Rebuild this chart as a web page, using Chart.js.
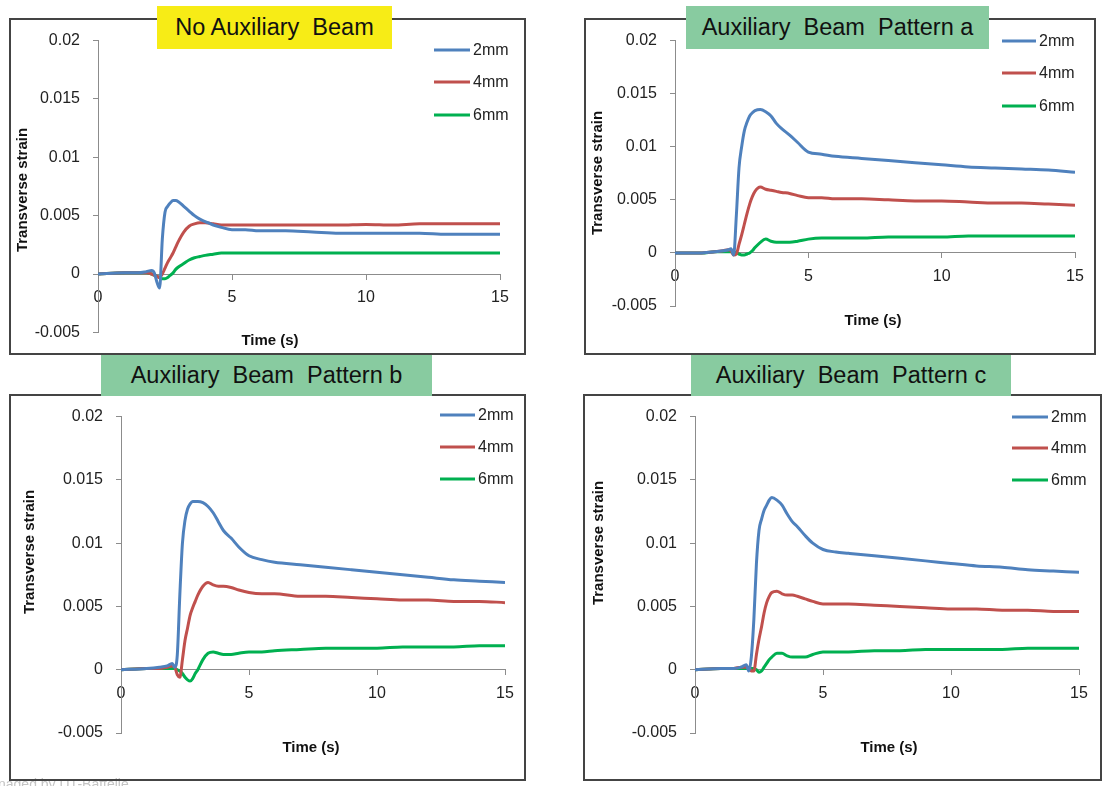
<!DOCTYPE html>
<html>
<head>
<meta charset="utf-8">
<script src="https://cdn.jsdelivr.net/npm/chart.js@4.4.1/dist/chart.umd.min.js"></script>
<style>
  html, body { margin: 0; padding: 0; background: #fff; width: 1109px; height: 786px; overflow: hidden;
    font-family: "Liberation Sans", Arial, sans-serif; }
  canvas { position: absolute; }
  .frame { position: absolute; box-sizing: border-box; border: 2px solid #444; pointer-events: none; }
  .title { position: absolute; font-size: 23.5px; color: #111; text-align: center; white-space: pre; }
  .footer { position: absolute; left: -2px; top: 776px; font-size: 14px; color: #c4c4c4; }
</style>
</head>
<body>
<canvas id="c1"></canvas>
<canvas id="c2"></canvas>
<canvas id="c3"></canvas>
<canvas id="c4"></canvas>
<div class="footer">naged by UT-Battelle</div>

<script>
// sample times (s), shared by every series
const time = [0, 1, 1.5, 1.8, 2.0, 2.1, 2.2, 2.3, 2.4, 2.5, 2.6, 2.7, 2.8, 2.9, 3.0, 3.2, 3.4, 3.6, 3.8, 4.0,
              4.3, 4.6, 5.0, 5.5, 6, 7, 8, 9, 10, 11, 12, 13, 14, 15];

const seriesNames = ['2mm', '4mm', '6mm'];
const yTicks = [-0.005, 0, 0.005, 0.01, 0.015, 0.02];
const xTicks = [0, 5, 10, 15];

// No auxiliary beam
const noAux2mm = [0, 0.0001, 0.0001, 0.0002, 0.0003, 0.0001, -0.0007, -0.0012, 0.0030, 0.0053, 0.0058, 0.0061, 0.0063, 0.0063, 0.0062, 0.0058, 0.0054,
                  0.0050, 0.0047, 0.0045, 0.0042, 0.0040, 0.0038, 0.0038, 0.0037, 0.0037, 0.0036, 0.0035, 0.0035, 0.0035, 0.0035, 0.0034, 0.0034, 0.0034];
const noAux4mm = [0, 0.0001, 0.0001, 0.0001, 0.0000, -0.0001, -0.0002, -0.0003, 0.0000, 0.0005, 0.0010, 0.0014, 0.0018, 0.0023, 0.0028, 0.0036, 0.0041,
                  0.0043, 0.0044, 0.0044, 0.0043, 0.0042, 0.0042, 0.0042, 0.0042, 0.0042, 0.0042, 0.0042, 0.00425, 0.0042, 0.0043, 0.0043, 0.0043, 0.0043];
const noAux6mm = [0, 0.0001, 0.0001, 0.0001, 0.0000, -0.0001, -0.0002, -0.0003, -0.0004, -0.0004, -0.0003, -0.0001, 0.0001, 0.0004, 0.0006, 0.0009, 0.0012,
                  0.0014, 0.0015, 0.0016, 0.0017, 0.0018, 0.0018, 0.0018, 0.0018, 0.0018, 0.0018, 0.0018, 0.0018, 0.0018, 0.0018, 0.0018, 0.0018, 0.0018];

// pattern a
const patA2mm = [0, 0, 0.0001, 0.0002, 0.0003, 0.0004, -0.0002, 0.0035, 0.0080, 0.0100, 0.0115, 0.0123, 0.0129, 0.0132, 0.0134, 0.0135, 0.0133,
                 0.0129, 0.0122, 0.0117, 0.0111, 0.0104, 0.0095, 0.0093, 0.0091, 0.0089, 0.0087, 0.0085, 0.0083, 0.0081, 0.0080, 0.0079, 0.0078, 0.0076];
const patA4mm = [0, 0, 0.0001, 0.0002, 0.0003, 0.0002, -0.0002, -0.0001, 0.0008, 0.0017, 0.0027, 0.0037, 0.0046, 0.0053, 0.0058, 0.0062, 0.0060,
                 0.0059, 0.0058, 0.0057, 0.0056, 0.0054, 0.0052, 0.0052, 0.0051, 0.0051, 0.0050, 0.0049, 0.0049, 0.0048, 0.0047, 0.0047, 0.0046, 0.0045];
const patA6mm = [0, 0, 0.0001, 0.0001, 0.0001, 0.0001, 0.0001, 0.0000, -0.0001, -0.0002, -0.0002, -0.0001, 0.0000, 0.0002, 0.0005, 0.0010, 0.0013,
                 0.0011, 0.0010, 0.0010, 0.0010, 0.0011, 0.0013, 0.0014, 0.0014, 0.0014, 0.0015, 0.0015, 0.0015, 0.0016, 0.0016, 0.0016, 0.0016, 0.0016];

// pattern b
const patB2mm = [0, 0.0001, 0.0002, 0.0003, 0.0005, 0.0002, 0.0012, 0.0060, 0.0100, 0.0118, 0.0127, 0.0131, 0.0133, 0.0133, 0.0133, 0.0132, 0.0129,
                 0.0124, 0.0117, 0.0110, 0.0104, 0.0097, 0.0090, 0.0087, 0.0085, 0.0083, 0.0081, 0.0079, 0.0077, 0.0075, 0.0073, 0.0071, 0.0070, 0.0069];
const patB4mm = [0, 0.0001, 0.0001, 0.0002, 0.0003, 0.0002, -0.0004, -0.0006, 0.0008, 0.0023, 0.0033, 0.0043, 0.0049, 0.0054, 0.0059, 0.0066, 0.0069,
                 0.0067, 0.0066, 0.0066, 0.0065, 0.0063, 0.0061, 0.0060, 0.0060, 0.0058, 0.0058, 0.0057, 0.0056, 0.0055, 0.0055, 0.0054, 0.0054, 0.0053];
const patB6mm = [0, 0.0001, 0.0001, 0.0001, 0.0001, 0.0001, 0.0000, -0.0001, -0.0003, -0.0006, -0.0008, -0.0009, -0.0007, -0.0003, 0.0000, 0.0008, 0.0013,
                 0.0014, 0.0013, 0.0012, 0.0012, 0.0013, 0.0014, 0.0014, 0.0015, 0.0016, 0.0017, 0.0017, 0.0017, 0.0018, 0.0018, 0.0018, 0.0019, 0.0019];

// pattern c
const patC2mm = [0, 0.0001, 0.0001, 0.0002, 0.0004, -0.0001, 0.0010, 0.0040, 0.0084, 0.0110, 0.0119, 0.0126, 0.0130, 0.0134, 0.0136, 0.0134, 0.0130,
                 0.0123, 0.0117, 0.0113, 0.0106, 0.0100, 0.0095, 0.0093, 0.0092, 0.0090, 0.0088, 0.0086, 0.0084, 0.0082, 0.0081, 0.0079, 0.0078, 0.0077];
const patC4mm = [0, 0.0001, 0.0001, 0.0002, 0.0002, 0.0002, -0.0001, -0.0001, 0.0012, 0.0024, 0.0034, 0.0045, 0.0053, 0.0058, 0.0061, 0.0062, 0.0060,
                 0.0059, 0.0059, 0.0058, 0.0056, 0.0054, 0.0052, 0.0052, 0.0052, 0.0051, 0.0050, 0.0049, 0.0048, 0.0048, 0.0047, 0.0047, 0.0046, 0.0046];
const patC6mm = [0, 0.0001, 0.0001, 0.0001, 0.0001, 0.0001, 0.0001, 0.0001, 0.0000, -0.0002, -0.0001, 0.0002, 0.0005, 0.0008, 0.0010, 0.0013, 0.0013,
                 0.0011, 0.0010, 0.0010, 0.0010, 0.0012, 0.0014, 0.0014, 0.0014, 0.0015, 0.0015, 0.0016, 0.0016, 0.0016, 0.0016, 0.0017, 0.0017, 0.0017];

const lineColors = ['#4f81bd', '#c0504d', '#00b050'];
const FONT = '"Liberation Sans", Arial, sans-serif';

// page layout of the four panels: box = frame [left, top, width, height],
// area = plot [x at t=0, y at 0.02, x at t=15, y at -0.005]
const panels = [
  { id: 'c1', title: 'No Auxiliary  Beam', titleBg: '#f7ec16', titleBox: [157, 6, 235, 43],
    box: [9, 18, 517, 337], area: [98, 37, 500, 343], series: [noAux2mm, noAux4mm, noAux6mm],
    yTitle: [23, 190], xTitle: [270, 341], legend: { x0: 434, x1: 470, tx: 473, rows: [50, 82, 115] } },
  { id: 'c2', title: 'Auxiliary  Beam  Pattern a', titleBg: '#88cba0', titleBox: [686, 6, 303, 43],
    box: [584, 18, 512, 337], area: [675, 38, 1075, 306], series: [patA2mm, patA4mm, patA6mm],
    yTitle: [598, 173], xTitle: [873, 321], legend: { x0: 1002, x1: 1036, tx: 1039, rows: [41, 73, 106] } },
  { id: 'c3', title: 'Auxiliary  Beam  Pattern b', titleBg: '#88cba0', titleBox: [101, 355, 331, 41],
    box: [9, 394, 517, 387], area: [121, 414, 505, 733], series: [patB2mm, patB4mm, patB6mm],
    yTitle: [30, 552], xTitle: [311, 748], legend: { x0: 440, x1: 475, tx: 478, rows: [415, 447, 479] } },
  { id: 'c4', title: 'Auxiliary  Beam  Pattern c', titleBg: '#88cba0', titleBox: [691, 355, 320, 41],
    box: [583, 394, 519, 387], area: [695, 414, 1079, 733], series: [patC2mm, patC4mm, patC6mm],
    yTitle: [599, 543], xTitle: [889, 748], legend: { x0: 1012, x1: 1048, tx: 1051, rows: [417, 448, 480] } }
];

// axis titles and the in-plot legend
const panelDecor = {
  id: 'panelDecor',
  afterDraw(chart, args, opts) {
    const ctx = chart.ctx;
    const ox = opts.origin[0], oy = opts.origin[1];
    ctx.save();
    ctx.fillStyle = '#111';
    ctx.textAlign = 'center';
    ctx.textBaseline = 'middle';
    ctx.font = 'bold 15px ' + FONT;
    ctx.fillText('Time (s)', opts.xTitle[0] - ox, opts.xTitle[1] - oy);
    ctx.save();
    ctx.translate(opts.yTitle[0] - ox, opts.yTitle[1] - oy);
    ctx.rotate(-Math.PI / 2);
    ctx.fillText('Transverse strain', 0, 0);
    ctx.restore();

    const lg = opts.legend;
    ctx.font = '16px ' + FONT;
    ctx.textAlign = 'left';
    chart.data.datasets.forEach(function(ds, i) {
      const y = lg.rows[i] - oy;
      ctx.strokeStyle = ds.borderColor;
      ctx.lineWidth = 3;
      ctx.lineCap = 'butt';
      ctx.beginPath();
      ctx.moveTo(lg.x0 - ox, y);
      ctx.lineTo(lg.x1 - ox, y);
      ctx.stroke();
      ctx.fillStyle = '#222';
      ctx.fillText(ds.label, lg.tx - ox, y + 1);
    });
    ctx.restore();
  }
};

function fmtTick(v) {
  return String(Number(v.toFixed(3)));
}

function buildPanel(p) {
  const canvas = document.getElementById(p.id);
  const [bx, by, bw, bh] = p.box;
  canvas.width = bw;
  canvas.height = bh;
  canvas.style.left = bx + 'px';
  canvas.style.top = by + 'px';

  const frame = document.createElement('div');
  frame.className = 'frame';
  Object.assign(frame.style, { left: bx + 'px', top: by + 'px', width: bw + 'px', height: bh + 'px' });
  document.body.appendChild(frame);

  const t = document.createElement('div');
  t.className = 'title';
  t.textContent = p.title;
  const [tx, ty, tw, th] = p.titleBox;
  Object.assign(t.style, { left: tx + 'px', top: ty + 'px', width: tw + 'px', height: th + 'px',
    lineHeight: th + 'px', background: p.titleBg });
  document.body.appendChild(t);

  const datasets = p.series.map(function(vals, i) {
    return {
      label: seriesNames[i],
      data: time.map(function(x, k) { return { x: x, y: vals[k] }; }),
      borderColor: lineColors[i],
      backgroundColor: lineColors[i],
      borderWidth: 3,
      pointRadius: 0,
      cubicInterpolationMode: 'monotone',
      fill: false
    };
  });

  const [x0, yTop, x1, yBot] = p.area;
  new Chart(canvas, {
    type: 'line',
    data: { datasets: datasets },
    options: {
      responsive: false,
      animation: false,
      events: [],
      layout: { padding: { left: 0, top: yTop - by, right: bx + bw - x1, bottom: by + bh - yBot } },
      plugins: {
        legend: { display: false },
        tooltip: { enabled: false },
        panelDecor: { origin: [bx, by], xTitle: p.xTitle, yTitle: p.yTitle, legend: p.legend }
      },
      scales: {
        x: {
          type: 'linear',
          position: { y: 0 },
          min: xTicks[0],
          max: xTicks[xTicks.length - 1],
          afterBuildTicks: function(scale) { scale.ticks = xTicks.map(function(v) { return { value: v }; }); },
          ticks: { color: '#222', font: { family: FONT, size: 16 }, padding: 9, maxRotation: 0,
            callback: function(v) { return String(v); } },
          grid: { drawOnChartArea: false, drawTicks: true, tickLength: 5, color: '#8c8c8c' },
          border: { color: '#8c8c8c', width: 1 }
        },
        y: {
          type: 'linear',
          min: yTicks[0],
          max: yTicks[yTicks.length - 1],
          afterBuildTicks: function(scale) { scale.ticks = yTicks.map(function(v) { return { value: v }; }); },
          afterFit: function(scale) { scale.width = x0 - bx; },
          ticks: { color: '#222', font: { family: FONT, size: 16 }, padding: 13, callback: fmtTick },
          grid: { drawOnChartArea: false, drawTicks: true, tickLength: 5, color: '#8c8c8c' },
          border: { color: '#8c8c8c', width: 1 }
        }
      }
    },
    plugins: [panelDecor]
  });
}

panels.forEach(buildPanel);
</script>
</body>
</html>
